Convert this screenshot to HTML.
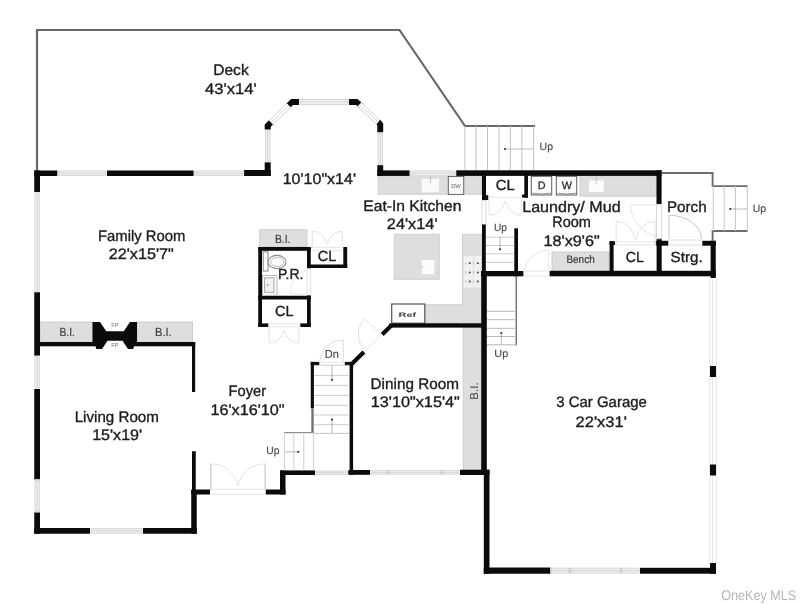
<!DOCTYPE html>
<html><head><meta charset="utf-8"><title>Floor Plan</title>
<style>
html,body{margin:0;padding:0;background:#fff;}
body{width:800px;height:604px;overflow:hidden;}
svg{display:block;font-family:"Liberation Sans",sans-serif;will-change:transform;text-rendering:geometricPrecision;}
</style></head><body>
<svg width="800" height="604" viewBox="0 0 800 604">
<rect x="0" y="0" width="800" height="604" fill="#ffffff"/>
<path d="M37,171 L37,30 L399.5,30 L465,126 L535,126" stroke="#686868" stroke-width="2.2" fill="none" stroke-linejoin="miter"/>
<line x1="464.90" y1="126.00" x2="464.90" y2="170.50" stroke="#c2c2c2" stroke-width="1" />
<line x1="475.90" y1="126.00" x2="475.90" y2="170.50" stroke="#c2c2c2" stroke-width="1" />
<line x1="487.50" y1="126.00" x2="487.50" y2="170.50" stroke="#c2c2c2" stroke-width="1" />
<line x1="499.00" y1="126.00" x2="499.00" y2="170.50" stroke="#c2c2c2" stroke-width="1" />
<line x1="510.40" y1="126.00" x2="510.40" y2="170.50" stroke="#c2c2c2" stroke-width="1" />
<line x1="521.80" y1="126.00" x2="521.80" y2="170.50" stroke="#c2c2c2" stroke-width="1" />
<line x1="533.50" y1="126.00" x2="533.50" y2="170.50" stroke="#c2c2c2" stroke-width="1" />
<line x1="505.00" y1="149.00" x2="533.50" y2="149.00" stroke="#a0a0a0" stroke-width="0.7" />
<circle cx="505" cy="149" r="1.1" fill="#333"/>
<rect x="40.00" y="322.00" width="52.50" height="20.00" fill="#dedede" stroke="#cacaca" stroke-width="0.9"/>
<rect x="137.00" y="322.00" width="55.50" height="20.00" fill="#dedede" stroke="#cacaca" stroke-width="0.9"/>
<rect x="259.75" y="229.75" width="47.25" height="17.25" fill="#dedede" stroke="#cacaca" stroke-width="0.9"/>
<rect x="378.25" y="175.75" width="103.50" height="18.45" fill="#dedede" stroke="#cacaca" stroke-width="0.9"/>
<rect x="421.75" y="178.75" width="17.25" height="13.50" fill="#fafafa" />
<line x1="430.50" y1="177.00" x2="430.50" y2="183.50" stroke="#bbb" stroke-width="0.8" />
<line x1="429.00" y1="178.00" x2="432.00" y2="178.00" stroke="#bbb" stroke-width="0.8" />
<rect x="448.30" y="176.40" width="15.45" height="18.00" fill="#fafafa" stroke="#555" stroke-width="0.9"/>
<rect x="394.25" y="234.25" width="45.00" height="45.00" fill="#dedede" stroke="#cacaca" stroke-width="0.9"/>
<rect x="421.75" y="260.00" width="12.50" height="14.25" fill="#fcfcfc" />
<line x1="418.50" y1="267.00" x2="424.00" y2="267.00" stroke="#c8c8c8" stroke-width="0.8" />
<polygon points="462.50,234.25 481.75,234.25 481.75,323.40 424.80,323.40 424.80,304.75 462.50,304.75" fill="#dedede" stroke="#cacaca" stroke-width="0.9"/>
<rect x="463.80" y="256.00" width="17.10" height="31.50" fill="#f1f1f1" />
<line x1="473.60" y1="256.50" x2="473.60" y2="287.00" stroke="#dcdcdc" stroke-width="0.8" />
<circle cx="469.7" cy="263.2" r="0.9" fill="#333"/>
<circle cx="477.8" cy="263.2" r="0.9" fill="#333"/>
<circle cx="465.8" cy="263.2" r="0.9" fill="none" stroke="#bbb" stroke-width="0.5"/>
<circle cx="473.5" cy="263.2" r="0.9" fill="none" stroke="#bbb" stroke-width="0.5"/>
<circle cx="469.7" cy="272.5" r="0.9" fill="#333"/>
<circle cx="477.8" cy="272.5" r="0.9" fill="#333"/>
<circle cx="465.8" cy="272.5" r="0.9" fill="none" stroke="#bbb" stroke-width="0.5"/>
<circle cx="473.5" cy="272.5" r="0.9" fill="none" stroke="#bbb" stroke-width="0.5"/>
<circle cx="469.7" cy="281.5" r="0.9" fill="#333"/>
<circle cx="477.8" cy="281.5" r="0.9" fill="#333"/>
<circle cx="465.8" cy="281.5" r="0.9" fill="none" stroke="#bbb" stroke-width="0.5"/>
<circle cx="473.5" cy="281.5" r="0.9" fill="none" stroke="#bbb" stroke-width="0.5"/>
<rect x="391.70" y="304.00" width="33.10" height="19.20" fill="#fdfdfd" stroke="#555" stroke-width="1.2"/>
<rect x="463.25" y="327.50" width="18.00" height="142.50" fill="#dedede" stroke="#cacaca" stroke-width="0.9"/>
<rect x="580.00" y="175.75" width="76.30" height="20.45" fill="#dedede" stroke="#cacaca" stroke-width="0.9"/>
<rect x="589.00" y="180.50" width="14.75" height="11.50" fill="#fbfbfb" />
<line x1="596.30" y1="177.00" x2="596.30" y2="184.00" stroke="#bbb" stroke-width="0.8" />
<rect x="552.00" y="252.00" width="56.90" height="18.90" fill="#dedede" stroke="#cacaca" stroke-width="0.9"/>
<rect x="531.25" y="176.25" width="20.50" height="18.75" fill="#fcfcfc" stroke="#4a4a4a" stroke-width="0.9"/>
<path d="M532.25,193.2 Q541.5,194.8 550.75,193.2" stroke="#666" stroke-width="0.7" fill="none" />
<rect x="556.25" y="176.25" width="20.50" height="18.75" fill="#fcfcfc" stroke="#4a4a4a" stroke-width="0.9"/>
<path d="M557.25,193.2 Q566.5,194.8 575.75,193.2" stroke="#666" stroke-width="0.7" fill="none" />
<rect x="34.25" y="170.50" width="23.25" height="5.50" fill="#0b0b0b" />
<rect x="57.50" y="170.50" width="49.50" height="5.50" fill="#fff" />
<rect x="58.50" y="171.10" width="47.50" height="4.30" fill="#f3f3f3" />
<line x1="58.50" y1="171.10" x2="106.00" y2="171.10" stroke="#c6c6c6" stroke-width="0.7" />
<line x1="58.50" y1="173.25" x2="106.00" y2="173.25" stroke="#c6c6c6" stroke-width="0.7" />
<line x1="58.50" y1="175.40" x2="106.00" y2="175.40" stroke="#c6c6c6" stroke-width="0.7" />
<line x1="58.50" y1="171.10" x2="58.50" y2="175.40" stroke="#c6c6c6" stroke-width="0.7" />
<line x1="106.00" y1="171.10" x2="106.00" y2="175.40" stroke="#c6c6c6" stroke-width="0.7" />
<rect x="107.00" y="170.50" width="86.75" height="5.50" fill="#0b0b0b" />
<rect x="193.75" y="170.50" width="50.35" height="5.50" fill="#fff" />
<rect x="194.75" y="171.10" width="48.35" height="4.30" fill="#f3f3f3" />
<line x1="194.75" y1="171.10" x2="243.10" y2="171.10" stroke="#c6c6c6" stroke-width="0.7" />
<line x1="194.75" y1="173.25" x2="243.10" y2="173.25" stroke="#c6c6c6" stroke-width="0.7" />
<line x1="194.75" y1="175.40" x2="243.10" y2="175.40" stroke="#c6c6c6" stroke-width="0.7" />
<line x1="194.75" y1="171.10" x2="194.75" y2="175.40" stroke="#c6c6c6" stroke-width="0.7" />
<line x1="243.10" y1="171.10" x2="243.10" y2="175.40" stroke="#c6c6c6" stroke-width="0.7" />
<rect x="244.10" y="170.00" width="26.60" height="6.00" fill="#0b0b0b" />
<rect x="264.70" y="162.20" width="6.00" height="13.80" fill="#0b0b0b" />
<rect x="264.90" y="129.40" width="5.60" height="32.80" fill="#fff" />
<rect x="265.50" y="130.40" width="4.40" height="30.80" fill="#f4f4f4" />
<line x1="265.50" y1="130.40" x2="265.50" y2="161.20" stroke="#c6c6c6" stroke-width="0.7" />
<line x1="267.70" y1="130.40" x2="267.70" y2="161.20" stroke="#c6c6c6" stroke-width="0.7" />
<line x1="269.90" y1="130.40" x2="269.90" y2="161.20" stroke="#c6c6c6" stroke-width="0.7" />
<line x1="265.50" y1="130.40" x2="269.90" y2="130.40" stroke="#c6c6c6" stroke-width="0.7" />
<line x1="265.50" y1="161.20" x2="269.90" y2="161.20" stroke="#c6c6c6" stroke-width="0.7" />
<polygon points="264.70,129.60 264.70,124.60 269.00,120.30 273.20,124.30 270.70,126.80 270.70,129.60" fill="#0b0b0b" />
<polygon points="269.20,120.50 273.00,124.30 291.20,106.60 287.30,102.80" fill="#fff" stroke="#bdbdbd" stroke-width="0.7"/>
<line x1="271.10" y1="122.40" x2="289.20" y2="104.70" stroke="#c4c4c4" stroke-width="0.7" />
<polygon points="299.20,98.90 291.00,98.90 286.80,103.30 290.80,107.20 293.00,105.10 299.20,105.10" fill="#0b0b0b" />
<rect x="299.20" y="98.90" width="49.80" height="6.20" fill="#fff" />
<rect x="300.20" y="99.50" width="47.80" height="5.00" fill="#f3f3f3" />
<line x1="300.20" y1="99.50" x2="348.00" y2="99.50" stroke="#c6c6c6" stroke-width="0.7" />
<line x1="300.20" y1="102.00" x2="348.00" y2="102.00" stroke="#c6c6c6" stroke-width="0.7" />
<line x1="300.20" y1="104.50" x2="348.00" y2="104.50" stroke="#c6c6c6" stroke-width="0.7" />
<line x1="300.20" y1="99.50" x2="300.20" y2="104.50" stroke="#c6c6c6" stroke-width="0.7" />
<line x1="348.00" y1="99.50" x2="348.00" y2="104.50" stroke="#c6c6c6" stroke-width="0.7" />
<polygon points="349.00,98.90 357.50,98.90 363.60,104.60 359.80,108.20 356.20,105.10 349.00,105.10" fill="#0b0b0b" />
<polygon points="361.50,102.60 357.80,106.30 377.20,125.00 380.80,121.30" fill="#fff" stroke="#bdbdbd" stroke-width="0.7"/>
<line x1="359.60" y1="104.40" x2="379.00" y2="123.10" stroke="#c4c4c4" stroke-width="0.7" />
<polygon points="380.20,119.80 383.20,123.50 383.20,132.50 377.30,132.50 377.30,125.50 376.60,124.20" fill="#0b0b0b" />
<rect x="377.50" y="132.50" width="5.50" height="32.70" fill="#fff" />
<rect x="378.10" y="133.50" width="4.30" height="30.70" fill="#f4f4f4" />
<line x1="378.10" y1="133.50" x2="378.10" y2="164.20" stroke="#c6c6c6" stroke-width="0.7" />
<line x1="380.25" y1="133.50" x2="380.25" y2="164.20" stroke="#c6c6c6" stroke-width="0.7" />
<line x1="382.40" y1="133.50" x2="382.40" y2="164.20" stroke="#c6c6c6" stroke-width="0.7" />
<line x1="378.10" y1="133.50" x2="382.40" y2="133.50" stroke="#c6c6c6" stroke-width="0.7" />
<line x1="378.10" y1="164.20" x2="382.40" y2="164.20" stroke="#c6c6c6" stroke-width="0.7" />
<rect x="377.30" y="165.20" width="5.90" height="10.80" fill="#0b0b0b" />
<rect x="377.30" y="170.40" width="32.45" height="5.50" fill="#0b0b0b" />
<rect x="409.75" y="170.40" width="46.50" height="5.50" fill="#fff" />
<rect x="410.75" y="171.00" width="44.50" height="4.30" fill="#f3f3f3" />
<line x1="410.75" y1="171.00" x2="455.25" y2="171.00" stroke="#c6c6c6" stroke-width="0.7" />
<line x1="410.75" y1="173.15" x2="455.25" y2="173.15" stroke="#c6c6c6" stroke-width="0.7" />
<line x1="410.75" y1="175.30" x2="455.25" y2="175.30" stroke="#c6c6c6" stroke-width="0.7" />
<line x1="410.75" y1="171.00" x2="410.75" y2="175.30" stroke="#c6c6c6" stroke-width="0.7" />
<line x1="455.25" y1="171.00" x2="455.25" y2="175.30" stroke="#c6c6c6" stroke-width="0.7" />
<rect x="456.25" y="170.30" width="205.35" height="5.60" fill="#0b0b0b" />
<rect x="34.25" y="170.50" width="5.75" height="21.75" fill="#0b0b0b" />
<rect x="34.40" y="192.25" width="5.50" height="100.00" fill="#fff" />
<rect x="35.00" y="193.25" width="4.30" height="98.00" fill="#f4f4f4" />
<line x1="35.00" y1="193.25" x2="35.00" y2="291.25" stroke="#c6c6c6" stroke-width="0.7" />
<line x1="37.15" y1="193.25" x2="37.15" y2="291.25" stroke="#c6c6c6" stroke-width="0.7" />
<line x1="39.30" y1="193.25" x2="39.30" y2="291.25" stroke="#c6c6c6" stroke-width="0.7" />
<line x1="35.00" y1="193.25" x2="39.30" y2="193.25" stroke="#c6c6c6" stroke-width="0.7" />
<line x1="35.00" y1="291.25" x2="39.30" y2="291.25" stroke="#c6c6c6" stroke-width="0.7" />
<rect x="34.25" y="292.25" width="5.75" height="63.50" fill="#0b0b0b" />
<rect x="34.40" y="355.75" width="5.50" height="33.25" fill="#fff" />
<rect x="35.00" y="356.75" width="4.30" height="31.25" fill="#f4f4f4" />
<line x1="35.00" y1="356.75" x2="35.00" y2="388.00" stroke="#c6c6c6" stroke-width="0.7" />
<line x1="37.15" y1="356.75" x2="37.15" y2="388.00" stroke="#c6c6c6" stroke-width="0.7" />
<line x1="39.30" y1="356.75" x2="39.30" y2="388.00" stroke="#c6c6c6" stroke-width="0.7" />
<line x1="35.00" y1="356.75" x2="39.30" y2="356.75" stroke="#c6c6c6" stroke-width="0.7" />
<line x1="35.00" y1="388.00" x2="39.30" y2="388.00" stroke="#c6c6c6" stroke-width="0.7" />
<rect x="34.25" y="389.00" width="5.75" height="90.50" fill="#0b0b0b" />
<rect x="34.40" y="479.50" width="5.50" height="33.00" fill="#fff" />
<rect x="35.00" y="480.50" width="4.30" height="31.00" fill="#f4f4f4" />
<line x1="35.00" y1="480.50" x2="35.00" y2="511.50" stroke="#c6c6c6" stroke-width="0.7" />
<line x1="37.15" y1="480.50" x2="37.15" y2="511.50" stroke="#c6c6c6" stroke-width="0.7" />
<line x1="39.30" y1="480.50" x2="39.30" y2="511.50" stroke="#c6c6c6" stroke-width="0.7" />
<line x1="35.00" y1="480.50" x2="39.30" y2="480.50" stroke="#c6c6c6" stroke-width="0.7" />
<line x1="35.00" y1="511.50" x2="39.30" y2="511.50" stroke="#c6c6c6" stroke-width="0.7" />
<rect x="34.25" y="512.50" width="5.75" height="21.25" fill="#0b0b0b" />
<rect x="34.25" y="528.00" width="55.75" height="5.75" fill="#0b0b0b" />
<rect x="90.00" y="528.00" width="53.00" height="5.75" fill="#fff" />
<rect x="91.00" y="528.60" width="51.00" height="4.55" fill="#f3f3f3" />
<line x1="91.00" y1="528.60" x2="142.00" y2="528.60" stroke="#c6c6c6" stroke-width="0.7" />
<line x1="91.00" y1="530.88" x2="142.00" y2="530.88" stroke="#c6c6c6" stroke-width="0.7" />
<line x1="91.00" y1="533.15" x2="142.00" y2="533.15" stroke="#c6c6c6" stroke-width="0.7" />
<line x1="91.00" y1="528.60" x2="91.00" y2="533.15" stroke="#c6c6c6" stroke-width="0.7" />
<line x1="142.00" y1="528.60" x2="142.00" y2="533.15" stroke="#c6c6c6" stroke-width="0.7" />
<rect x="143.00" y="528.00" width="53.75" height="5.75" fill="#0b0b0b" />
<rect x="191.25" y="490.00" width="5.50" height="43.75" fill="#0b0b0b" />
<rect x="192.00" y="451.25" width="3.75" height="39.75" fill="#0b0b0b" />
<rect x="192.00" y="342.00" width="3.20" height="50.00" fill="#0b0b0b" />
<rect x="39.00" y="342.00" width="58.00" height="4.30" fill="#0b0b0b" />
<rect x="132.00" y="342.00" width="63.20" height="4.30" fill="#0b0b0b" />
<polygon points="92.50,322.00 100.00,322.00 106.25,331.25 123.75,331.25 130.00,322.00 137.00,322.00 137.00,342.00 135.00,342.00 133.25,349.00 128.00,349.00 122.50,340.75 107.50,340.75 102.00,349.00 96.25,349.00 94.60,342.00 92.50,342.00" fill="#0b0b0b" />
<rect x="191.25" y="489.50" width="18.75" height="5.00" fill="#0b0b0b" />
<rect x="265.75" y="489.50" width="19.75" height="5.00" fill="#0b0b0b" />
<rect x="280.00" y="470.50" width="5.50" height="24.00" fill="#0b0b0b" />
<rect x="280.00" y="470.40" width="35.00" height="4.60" fill="#0b0b0b" />
<rect x="315.00" y="470.40" width="33.25" height="4.60" fill="#fff" />
<rect x="316.00" y="471.00" width="31.25" height="3.40" fill="#f3f3f3" />
<line x1="316.00" y1="471.00" x2="347.25" y2="471.00" stroke="#c6c6c6" stroke-width="0.7" />
<line x1="316.00" y1="472.70" x2="347.25" y2="472.70" stroke="#c6c6c6" stroke-width="0.7" />
<line x1="316.00" y1="474.40" x2="347.25" y2="474.40" stroke="#c6c6c6" stroke-width="0.7" />
<line x1="316.00" y1="471.00" x2="316.00" y2="474.40" stroke="#c6c6c6" stroke-width="0.7" />
<line x1="347.25" y1="471.00" x2="347.25" y2="474.40" stroke="#c6c6c6" stroke-width="0.7" />
<rect x="348.25" y="470.00" width="21.75" height="4.80" fill="#0b0b0b" />
<rect x="370.00" y="470.00" width="90.00" height="4.80" fill="#fff" />
<rect x="371.00" y="470.60" width="88.00" height="3.60" fill="#f3f3f3" />
<line x1="387.20" y1="470.60" x2="387.20" y2="474.20" stroke="#b4b4b4" stroke-width="0.7" />
<line x1="388.80" y1="470.60" x2="388.80" y2="474.20" stroke="#b4b4b4" stroke-width="0.7" />
<line x1="441.20" y1="470.60" x2="441.20" y2="474.20" stroke="#b4b4b4" stroke-width="0.7" />
<line x1="442.80" y1="470.60" x2="442.80" y2="474.20" stroke="#b4b4b4" stroke-width="0.7" />
<line x1="371.00" y1="470.60" x2="459.00" y2="470.60" stroke="#c6c6c6" stroke-width="0.7" />
<line x1="371.00" y1="472.40" x2="459.00" y2="472.40" stroke="#c6c6c6" stroke-width="0.7" />
<line x1="371.00" y1="474.20" x2="459.00" y2="474.20" stroke="#c6c6c6" stroke-width="0.7" />
<line x1="371.00" y1="470.60" x2="371.00" y2="474.20" stroke="#c6c6c6" stroke-width="0.7" />
<line x1="459.00" y1="470.60" x2="459.00" y2="474.20" stroke="#c6c6c6" stroke-width="0.7" />
<rect x="460.00" y="469.75" width="29.50" height="5.25" fill="#0b0b0b" />
<rect x="481.25" y="271.00" width="5.55" height="200.00" fill="#0b0b0b" />
<rect x="483.80" y="469.75" width="5.70" height="104.00" fill="#0b0b0b" />
<rect x="483.80" y="567.50" width="66.70" height="6.25" fill="#0b0b0b" />
<rect x="550.50" y="567.60" width="89.50" height="6.00" fill="#fff" />
<rect x="551.50" y="568.20" width="87.50" height="4.80" fill="#f3f3f3" />
<line x1="569.20" y1="568.20" x2="569.20" y2="573.00" stroke="#b4b4b4" stroke-width="0.7" />
<line x1="570.80" y1="568.20" x2="570.80" y2="573.00" stroke="#b4b4b4" stroke-width="0.7" />
<line x1="620.20" y1="568.20" x2="620.20" y2="573.00" stroke="#b4b4b4" stroke-width="0.7" />
<line x1="621.80" y1="568.20" x2="621.80" y2="573.00" stroke="#b4b4b4" stroke-width="0.7" />
<line x1="551.50" y1="568.20" x2="639.00" y2="568.20" stroke="#c6c6c6" stroke-width="0.7" />
<line x1="551.50" y1="570.60" x2="639.00" y2="570.60" stroke="#c6c6c6" stroke-width="0.7" />
<line x1="551.50" y1="573.00" x2="639.00" y2="573.00" stroke="#c6c6c6" stroke-width="0.7" />
<line x1="551.50" y1="568.20" x2="551.50" y2="573.00" stroke="#c6c6c6" stroke-width="0.7" />
<line x1="639.00" y1="568.20" x2="639.00" y2="573.00" stroke="#c6c6c6" stroke-width="0.7" />
<rect x="640.00" y="567.80" width="76.00" height="5.90" fill="#0b0b0b" />
<rect x="710.00" y="563.00" width="6.00" height="10.70" fill="#0b0b0b" />
<line x1="709.80" y1="278.00" x2="709.80" y2="563.00" stroke="#e2e2e2" stroke-width="0.9" />
<line x1="712.50" y1="278.00" x2="712.50" y2="563.00" stroke="#e2e2e2" stroke-width="0.9" />
<line x1="716.20" y1="278.00" x2="716.20" y2="563.00" stroke="#e2e2e2" stroke-width="0.9" />
<rect x="710.00" y="366.00" width="6.00" height="11.00" fill="#0b0b0b" />
<rect x="710.00" y="464.50" width="6.00" height="11.00" fill="#0b0b0b" />
<rect x="481.00" y="271.00" width="42.40" height="5.30" fill="#0b0b0b" />
<rect x="549.60" y="270.80" width="166.15" height="5.50" fill="#0b0b0b" />
<rect x="710.60" y="240.80" width="5.15" height="37.20" fill="#0b0b0b" />
<rect x="702.30" y="240.80" width="13.45" height="4.90" fill="#0b0b0b" />
<rect x="655.80" y="240.80" width="12.50" height="4.90" fill="#0b0b0b" />
<rect x="656.60" y="238.00" width="5.10" height="34.00" fill="#0b0b0b" />
<rect x="656.50" y="170.30" width="5.10" height="34.00" fill="#0b0b0b" />
<rect x="656.50" y="204.30" width="5.10" height="34.50" fill="#fff" stroke="#d0d0d0" stroke-width="0.8"/>
<rect x="609.60" y="241.30" width="4.00" height="30.70" fill="#0b0b0b" />
<rect x="609.60" y="241.30" width="5.40" height="3.70" fill="#0b0b0b" />
<rect x="482.00" y="175.50" width="4.00" height="24.50" fill="#0b0b0b" />
<rect x="482.00" y="195.20" width="6.30" height="4.80" fill="#0b0b0b" />
<rect x="524.30" y="175.50" width="3.70" height="22.10" fill="#0b0b0b" />
<rect x="522.00" y="194.50" width="6.00" height="3.10" fill="#0b0b0b" />
<rect x="482.00" y="200.40" width="3.80" height="24.20" fill="#fff" stroke="#cfcfcf" stroke-width="0.8"/>
<rect x="482.00" y="224.50" width="3.80" height="47.50" fill="#0b0b0b" />
<rect x="514.30" y="228.30" width="3.70" height="48.00" fill="#0b0b0b" />
<rect x="258.25" y="247.00" width="52.50" height="3.80" fill="#0b0b0b" />
<rect x="258.25" y="247.00" width="3.75" height="80.00" fill="#0b0b0b" />
<rect x="307.00" y="247.00" width="3.75" height="21.70" fill="#0b0b0b" />
<rect x="307.00" y="268.70" width="3.75" height="26.80" fill="#fff" stroke="#d8d8d8" stroke-width="0.7"/>
<rect x="307.00" y="295.50" width="3.75" height="31.50" fill="#0b0b0b" />
<rect x="258.25" y="295.75" width="52.50" height="3.75" fill="#0b0b0b" />
<rect x="258.25" y="323.40" width="10.05" height="3.60" fill="#0b0b0b" />
<rect x="300.25" y="323.40" width="10.50" height="3.60" fill="#0b0b0b" />
<rect x="343.30" y="247.00" width="3.90" height="21.00" fill="#0b0b0b" />
<rect x="307.00" y="264.50" width="40.20" height="3.50" fill="#0b0b0b" />
<rect x="389.30" y="323.30" width="96.70" height="4.30" fill="#0b0b0b" />
<line x1="391.30" y1="325.50" x2="382.20" y2="334.40" stroke="#0b0b0b" stroke-width="4.2" />
<line x1="363.90" y1="352.00" x2="351.20" y2="364.40" stroke="#0b0b0b" stroke-width="4.2" />
<rect x="349.60" y="362.50" width="3.50" height="112.50" fill="#0b0b0b" />
<rect x="310.75" y="361.90" width="8.55" height="3.50" fill="#0b0b0b" />
<rect x="344.80" y="361.90" width="7.20" height="3.50" fill="#0b0b0b" />
<rect x="310.75" y="361.90" width="3.15" height="46.40" fill="#0b0b0b" />
<rect x="311.30" y="408.30" width="2.40" height="24.70" fill="#707070" />
<line x1="313.90" y1="365.40" x2="349.60" y2="365.40" stroke="#c6c6c6" stroke-width="0.9" />
<line x1="313.90" y1="375.60" x2="349.60" y2="375.60" stroke="#c6c6c6" stroke-width="0.9" />
<line x1="313.90" y1="385.40" x2="349.60" y2="385.40" stroke="#c6c6c6" stroke-width="0.9" />
<line x1="313.90" y1="395.40" x2="349.60" y2="395.40" stroke="#c6c6c6" stroke-width="0.9" />
<line x1="313.90" y1="405.30" x2="349.60" y2="405.30" stroke="#c6c6c6" stroke-width="0.9" />
<line x1="313.90" y1="415.00" x2="349.60" y2="415.00" stroke="#c6c6c6" stroke-width="0.9" />
<line x1="313.90" y1="424.70" x2="349.60" y2="424.70" stroke="#c6c6c6" stroke-width="0.9" />
<line x1="313.90" y1="433.40" x2="349.60" y2="433.40" stroke="#bdbdbd" stroke-width="0.9" />
<line x1="332.00" y1="365.40" x2="332.00" y2="379.50" stroke="#999" stroke-width="0.7" />
<circle cx="332" cy="379.8" r="1.1" fill="#333"/>
<line x1="332.00" y1="419.50" x2="332.00" y2="433.00" stroke="#999" stroke-width="0.7" />
<circle cx="332" cy="419.5" r="1.1" fill="#333"/>
<line x1="284.20" y1="432.60" x2="313.50" y2="432.60" stroke="#8c8c8c" stroke-width="1.2" />
<line x1="284.40" y1="432.60" x2="284.40" y2="470.50" stroke="#c8c8c8" stroke-width="0.9" />
<line x1="293.90" y1="432.60" x2="293.90" y2="470.50" stroke="#c8c8c8" stroke-width="0.9" />
<line x1="303.80" y1="432.60" x2="303.80" y2="470.50" stroke="#c8c8c8" stroke-width="0.9" />
<line x1="313.60" y1="432.60" x2="313.60" y2="470.50" stroke="#c8c8c8" stroke-width="0.9" />
<line x1="285.00" y1="451.80" x2="298.20" y2="451.80" stroke="#999" stroke-width="0.7" />
<circle cx="298.3" cy="451.8" r="1.1" fill="#333"/>
<line x1="486.00" y1="237.20" x2="514.30" y2="237.20" stroke="#c6c6c6" stroke-width="0.9" />
<line x1="486.00" y1="245.50" x2="514.30" y2="245.50" stroke="#c6c6c6" stroke-width="0.9" />
<line x1="486.00" y1="253.80" x2="514.30" y2="253.80" stroke="#c6c6c6" stroke-width="0.9" />
<line x1="486.00" y1="262.50" x2="514.30" y2="262.50" stroke="#c6c6c6" stroke-width="0.9" />
<line x1="500.00" y1="237.20" x2="500.00" y2="249.00" stroke="#999" stroke-width="0.7" />
<circle cx="500" cy="249.3" r="1.1" fill="#333"/>
<line x1="516.30" y1="276.00" x2="516.30" y2="345.30" stroke="#747474" stroke-width="1.5" />
<line x1="487.00" y1="311.30" x2="516.30" y2="311.30" stroke="#b8b8b8" stroke-width="1" />
<line x1="487.00" y1="319.70" x2="516.30" y2="319.70" stroke="#b8b8b8" stroke-width="1" />
<line x1="487.00" y1="328.30" x2="516.30" y2="328.30" stroke="#b8b8b8" stroke-width="1" />
<line x1="487.00" y1="336.50" x2="516.30" y2="336.50" stroke="#b8b8b8" stroke-width="1" />
<line x1="487.00" y1="344.80" x2="516.30" y2="344.80" stroke="#b8b8b8" stroke-width="1" />
<line x1="501.30" y1="333.00" x2="501.30" y2="344.80" stroke="#999" stroke-width="0.7" />
<circle cx="501.3" cy="333" r="1.1" fill="#333"/>
<path d="M661.6,173 L712.6,173 L712.6,186.1 L747.6,186.1" stroke="#6c6c6c" stroke-width="1.9" fill="none" />
<path d="M747.6,231 L712.6,231 L712.6,241" stroke="#6c6c6c" stroke-width="1.9" fill="none" />
<line x1="713.30" y1="186.00" x2="713.30" y2="231.00" stroke="#c8c8c8" stroke-width="1" />
<line x1="724.20" y1="186.00" x2="724.20" y2="231.00" stroke="#c8c8c8" stroke-width="1" />
<line x1="735.50" y1="186.00" x2="735.50" y2="231.00" stroke="#c8c8c8" stroke-width="1" />
<line x1="747.40" y1="186.00" x2="747.40" y2="231.00" stroke="#c8c8c8" stroke-width="1" />
<line x1="730.00" y1="209.00" x2="747.00" y2="209.00" stroke="#999" stroke-width="0.7" />
<circle cx="730.2" cy="209" r="1.1" fill="#333"/>
<line x1="668.30" y1="240.00" x2="702.00" y2="240.00" stroke="#d8d8d8" stroke-width="0.8" />
<line x1="668.30" y1="245.00" x2="702.00" y2="245.00" stroke="#d8d8d8" stroke-width="0.8" />
<path d="M669,239 L669,215.2 A32.5,24 0 0 1 701.5,239" stroke="#c2c2c2" stroke-width="0.9" fill="none" />
<path d="M210.7,463.8 A27.3,25.4 0 0 1 237.8,486" stroke="#e0e0e0" stroke-width="0.9" fill="none" />
<path d="M265.2,463.8 A27.3,25.4 0 0 0 238.1,486" stroke="#e0e0e0" stroke-width="0.9" fill="none" />
<line x1="210.80" y1="463.80" x2="210.80" y2="489.50" stroke="#cdcdcd" stroke-width="1.3" />
<line x1="265.10" y1="463.80" x2="265.10" y2="489.50" stroke="#cdcdcd" stroke-width="1.3" />
<line x1="210.00" y1="489.30" x2="265.75" y2="489.30" stroke="#e0e0e0" stroke-width="0.8" />
<line x1="210.00" y1="494.30" x2="265.75" y2="494.30" stroke="#e0e0e0" stroke-width="0.8" />
<path d="M489.1,197.5 L489.1,215.3 A16.2,17.8 0 0 0 505,201" stroke="#e0e0e0" stroke-width="0.9" fill="none" />
<path d="M521.2,197.5 L521.2,215.3 A16.2,17.8 0 0 1 505.4,201" stroke="#e0e0e0" stroke-width="0.9" fill="none" />
<line x1="488.30" y1="197.30" x2="522.00" y2="197.30" stroke="#e0e0e0" stroke-width="0.8" />
<path d="M312.3,247 L312.3,231.3 A15.2,15.8 0 0 1 327.1,244" stroke="#e0e0e0" stroke-width="0.9" fill="none" />
<path d="M342.3,247 L342.3,231.3 A15.2,15.8 0 0 0 327.5,244" stroke="#e0e0e0" stroke-width="0.9" fill="none" />
<line x1="310.75" y1="250.60" x2="343.30" y2="250.60" stroke="#e0e0e0" stroke-width="0.8" />
<line x1="310.75" y1="247.30" x2="343.30" y2="247.30" stroke="#e0e0e0" stroke-width="0.8" />
<path d="M269.2,327 L269.2,343 A15,16 0 0 0 283.8,330.5" stroke="#e0e0e0" stroke-width="0.9" fill="none" />
<path d="M298.8,327 L298.8,343 A15,16 0 0 1 284.2,330.5" stroke="#e0e0e0" stroke-width="0.9" fill="none" />
<line x1="268.30" y1="323.80" x2="300.25" y2="323.80" stroke="#e0e0e0" stroke-width="0.8" />
<line x1="268.30" y1="326.80" x2="300.25" y2="326.80" stroke="#e0e0e0" stroke-width="0.8" />
<path d="M343.3,362 L343.3,340 A23,22 0 0 0 320,362" stroke="#d8d8d8" stroke-width="0.9" fill="none" />
<line x1="319.30" y1="362.20" x2="344.80" y2="362.20" stroke="#e0e0e0" stroke-width="0.8" />
<line x1="319.30" y1="365.20" x2="344.80" y2="365.20" stroke="#e0e0e0" stroke-width="0.8" />
<path d="M380.8,333.8 L364.4,318.8 A22,22 0 0 0 364.6,349.4" stroke="#e0e0e0" stroke-width="0.9" fill="none" />
<line x1="382.20" y1="334.40" x2="363.90" y2="352.00" stroke="#e0e0e0" stroke-width="0.8" />
<path d="M548.7,271 L548.7,250 Q528,252 524,271" stroke="#e0e0e0" stroke-width="0.8" fill="none" />
<line x1="523.40" y1="271.20" x2="549.60" y2="271.20" stroke="#e0e0e0" stroke-width="0.8" />
<line x1="523.40" y1="276.00" x2="549.60" y2="276.00" stroke="#e0e0e0" stroke-width="0.8" />
<path d="M616.2,245 L616.2,221.3 A19.6,23.7 0 0 1 635.4,240" stroke="#e0e0e0" stroke-width="0.9" fill="none" />
<path d="M655,245 L655,221.3 A19.6,23.7 0 0 0 635.8,240" stroke="#e0e0e0" stroke-width="0.9" fill="none" />
<line x1="615.00" y1="241.80" x2="656.30" y2="241.80" stroke="#e0e0e0" stroke-width="0.8" />
<line x1="615.00" y1="244.80" x2="656.30" y2="244.80" stroke="#e0e0e0" stroke-width="0.8" />
<path d="M656,205 L630,205 Q632,228 656,236.6" stroke="#e0e0e0" stroke-width="0.8" fill="none" />
<path d="M307,294 L290,294 Q291,276 307,269.5" stroke="#e2e2e2" stroke-width="0.8" fill="none" />
<rect x="263.20" y="251.80" width="4.80" height="19.20" fill="#fff" stroke="#909090" stroke-width="1.1"/>
<ellipse cx="277" cy="262" rx="9" ry="6.6" fill="#fff" stroke="#8c8c8c" stroke-width="1.1"/>
<ellipse cx="277.3" cy="262" rx="6.6" ry="4.5" fill="#fff" stroke="#aaa" stroke-width="0.8"/>
<rect x="262.50" y="275.50" width="14.50" height="19.80" fill="#fff" stroke="#b0b0b0" stroke-width="0.9"/>
<rect x="264.60" y="277.80" width="9.40" height="14.50" fill="#f2f2f2" stroke="#a0a0a0" stroke-width="0.9"/>
<circle cx="267.6" cy="285" r="0.9" fill="#999"/>
<text x="213.20" y="74.85" font-size="15.2" fill="#1c1c1c" stroke="#1c1c1c" stroke-width="0.35" textLength="35.50" lengthAdjust="spacingAndGlyphs" >Deck</text>
<text x="205.00" y="94.25" font-size="15.2" fill="#1c1c1c" stroke="#1c1c1c" stroke-width="0.35" textLength="51.70" lengthAdjust="spacingAndGlyphs" >43'x14'</text>
<text x="282.70" y="183.55" font-size="15.2" fill="#1c1c1c" stroke="#1c1c1c" stroke-width="0.35" textLength="73.30" lengthAdjust="spacingAndGlyphs" >10'10&quot;x14'</text>
<text x="98.00" y="240.55" font-size="15.2" fill="#1c1c1c" stroke="#1c1c1c" stroke-width="0.35" textLength="87.40" lengthAdjust="spacingAndGlyphs" >Family Room</text>
<text x="108.70" y="259.25" font-size="15.2" fill="#1c1c1c" stroke="#1c1c1c" stroke-width="0.35" textLength="65.20" lengthAdjust="spacingAndGlyphs" >22'x15'7&quot;</text>
<text x="363.30" y="210.55" font-size="15.2" fill="#1c1c1c" stroke="#1c1c1c" stroke-width="0.35" textLength="98.10" lengthAdjust="spacingAndGlyphs" >Eat-In Kitchen</text>
<text x="386.80" y="229.25" font-size="15.2" fill="#1c1c1c" stroke="#1c1c1c" stroke-width="0.35" textLength="50.80" lengthAdjust="spacingAndGlyphs" >24'x14'</text>
<text x="74.70" y="421.55" font-size="15.2" fill="#1c1c1c" stroke="#1c1c1c" stroke-width="0.35" textLength="84.20" lengthAdjust="spacingAndGlyphs" >Living Room</text>
<text x="92.20" y="440.25" font-size="15.2" fill="#1c1c1c" stroke="#1c1c1c" stroke-width="0.35" textLength="49.90" lengthAdjust="spacingAndGlyphs" >15'x19'</text>
<text x="228.60" y="396.45" font-size="15.2" fill="#1c1c1c" stroke="#1c1c1c" stroke-width="0.35" textLength="37.50" lengthAdjust="spacingAndGlyphs" >Foyer</text>
<text x="210.40" y="415.05" font-size="15.2" fill="#1c1c1c" stroke="#1c1c1c" stroke-width="0.35" textLength="74.20" lengthAdjust="spacingAndGlyphs" >16'x16'10&quot;</text>
<text x="370.60" y="389.05" font-size="15.2" fill="#1c1c1c" stroke="#1c1c1c" stroke-width="0.35" textLength="88.30" lengthAdjust="spacingAndGlyphs" >Dining Room</text>
<text x="370.70" y="407.25" font-size="15.2" fill="#1c1c1c" stroke="#1c1c1c" stroke-width="0.35" textLength="89.20" lengthAdjust="spacingAndGlyphs" >13'10&quot;x15'4&quot;</text>
<text x="556.20" y="407.45" font-size="15.2" fill="#1c1c1c" stroke="#1c1c1c" stroke-width="0.35" textLength="90.70" lengthAdjust="spacingAndGlyphs" >3 Car Garage</text>
<text x="575.60" y="427.45" font-size="15.2" fill="#1c1c1c" stroke="#1c1c1c" stroke-width="0.35" textLength="51.30" lengthAdjust="spacingAndGlyphs" >22'x31'</text>
<text x="522.20" y="211.75" font-size="15.2" fill="#1c1c1c" stroke="#1c1c1c" stroke-width="0.35" textLength="98.40" lengthAdjust="spacingAndGlyphs" >Laundry/ Mud</text>
<text x="552.20" y="226.75" font-size="15.2" fill="#1c1c1c" stroke="#1c1c1c" stroke-width="0.35" textLength="38.70" lengthAdjust="spacingAndGlyphs" >Room</text>
<text x="543.60" y="246.05" font-size="15.2" fill="#1c1c1c" stroke="#1c1c1c" stroke-width="0.35" textLength="56.10" lengthAdjust="spacingAndGlyphs" >18'x9'6&quot;</text>
<text x="666.90" y="211.95" font-size="15.2" fill="#1c1c1c" stroke="#1c1c1c" stroke-width="0.35" textLength="39.70" lengthAdjust="spacingAndGlyphs" >Porch</text>
<text x="495.80" y="189.65" font-size="14.6" fill="#1c1c1c" stroke="#1c1c1c" stroke-width="0.35" textLength="18.90" lengthAdjust="spacingAndGlyphs" >CL</text>
<text x="317.80" y="261.45" font-size="14.6" fill="#1c1c1c" stroke="#1c1c1c" stroke-width="0.35" textLength="18.60" lengthAdjust="spacingAndGlyphs" >CL</text>
<text x="275.10" y="315.95" font-size="14.6" fill="#1c1c1c" stroke="#1c1c1c" stroke-width="0.35" textLength="18.60" lengthAdjust="spacingAndGlyphs" >CL</text>
<text x="278.10" y="279.25" font-size="14.6" fill="#1c1c1c" stroke="#1c1c1c" stroke-width="0.35" textLength="25.30" lengthAdjust="spacingAndGlyphs" >P.R.</text>
<text x="625.70" y="262.45" font-size="14.6" fill="#1c1c1c" stroke="#1c1c1c" stroke-width="0.35" textLength="18.20" lengthAdjust="spacingAndGlyphs" >CL</text>
<text x="670.60" y="262.45" font-size="14.6" fill="#1c1c1c" stroke="#1c1c1c" stroke-width="0.35" textLength="32.10" lengthAdjust="spacingAndGlyphs" >Strg.</text>
<text x="541.60" y="188.90" font-size="10.8" fill="#2a2a2a" text-anchor="middle" stroke="#2a2a2a" stroke-width="0.25">D</text>
<text x="566.80" y="188.90" font-size="10.8" fill="#2a2a2a" text-anchor="middle" stroke="#2a2a2a" stroke-width="0.25">W</text>
<text x="456.00" y="187.60" font-size="5.8" fill="#666" text-anchor="middle" >DW</text>
<text x="274.90" y="242.75" font-size="11.8" fill="#383838" stroke="#383838" stroke-width="0.15" textLength="15.60" lengthAdjust="spacingAndGlyphs" >B.I.</text>
<text x="59.40" y="336.05" font-size="11.8" fill="#383838" stroke="#383838" stroke-width="0.15" textLength="15.60" lengthAdjust="spacingAndGlyphs" >B.I.</text>
<text x="155.00" y="336.05" font-size="11.8" fill="#383838" stroke="#383838" stroke-width="0.15" textLength="16.60" lengthAdjust="spacingAndGlyphs" >B.I.</text>
<text transform="translate(478,391) rotate(-90)" font-size="11.5" fill="#444" text-anchor="middle">B.I.</text>
<text x="566.40" y="263.45" font-size="10.9" fill="#333" stroke="#333" stroke-width="0.15" textLength="28.30" lengthAdjust="spacingAndGlyphs" >Bench</text>
<text x="407.30" y="316.80" font-size="6.6" fill="#444" text-anchor="middle" font-weight="bold" textLength="17.5" lengthAdjust="spacingAndGlyphs">Ref</text>
<text x="539.60" y="150.25" font-size="10.5" fill="#4a4a4a" stroke="#4a4a4a" stroke-width="0.15" textLength="13.40" lengthAdjust="spacingAndGlyphs" >Up</text>
<text x="752.80" y="211.95" font-size="10.5" fill="#4a4a4a" stroke="#4a4a4a" stroke-width="0.15" textLength="13.40" lengthAdjust="spacingAndGlyphs" >Up</text>
<text x="494.00" y="230.75" font-size="10.5" fill="#4a4a4a" stroke="#4a4a4a" stroke-width="0.15" textLength="13.00" lengthAdjust="spacingAndGlyphs" >Up</text>
<text x="494.30" y="357.05" font-size="10.5" fill="#4a4a4a" stroke="#4a4a4a" stroke-width="0.15" textLength="13.90" lengthAdjust="spacingAndGlyphs" >Up</text>
<text x="266.30" y="454.05" font-size="10.5" fill="#4a4a4a" stroke="#4a4a4a" stroke-width="0.15" textLength="13.20" lengthAdjust="spacingAndGlyphs" >Up</text>
<text x="324.80" y="358.25" font-size="11.5" fill="#4a4a4a" stroke="#4a4a4a" stroke-width="0.15" textLength="14.10" lengthAdjust="spacingAndGlyphs" >Dn</text>
<text x="115.00" y="327.30" font-size="5.8" fill="#777" text-anchor="middle" >FP</text>
<text x="115.00" y="347.20" font-size="5.8" fill="#777" text-anchor="middle" >FP</text>
<text x="721.2" y="600.2" font-size="14" fill="#b4b4b4" stroke="#fff" stroke-width="2.2" paint-order="stroke" textLength="75" lengthAdjust="spacingAndGlyphs">OneKey MLS</text>
</svg>
</body></html>
